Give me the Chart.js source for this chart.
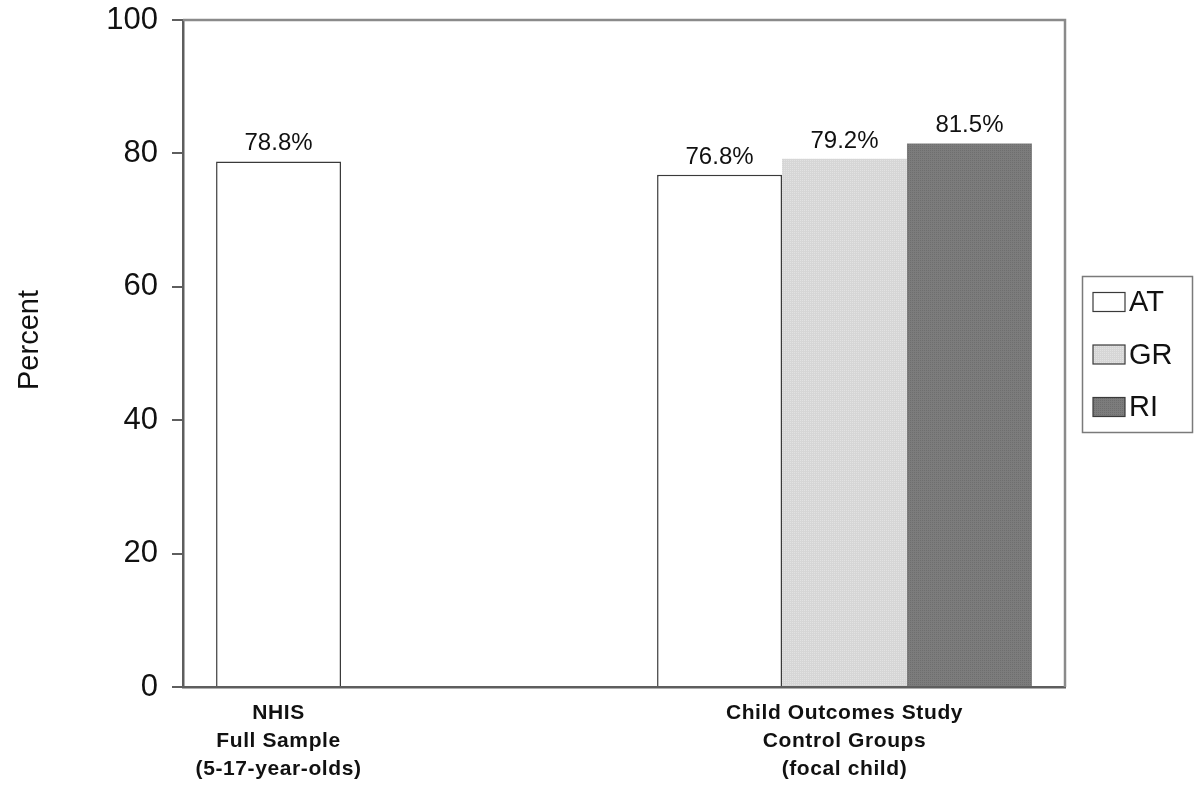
<!DOCTYPE html>
<html>
<head>
<meta charset="utf-8">
<script src="https://cdn.jsdelivr.net/npm/chart.js@4.4.1/dist/chart.umd.min.js"></script>
<style>
  html, body { margin: 0; padding: 0; background: #ffffff; }
  #wrap { width: 1196px; height: 786px; position: relative; }
</style>
</head>
<body>
<div id="wrap"><canvas id="c" width="1196" height="786"></canvas></div>
<script>
// Category labels (multi-line), series names and values
const categories = [
  ["NHIS", "Full Sample", "(5-17-year-olds)"],
  ["Child Outcomes Study", "Control Groups", "(focal child)"]
];
const seriesNames = ["AT", "GR", "RI"];
const atValues = [78.8, 76.8];
const grValues = [null, 79.2];
const riValues = [null, 81.5];
const yTicks = [0, 20, 40, 60, 80, 100];
const yTitle = "Percent";

const FONT = "'Liberation Sans', Arial, Helvetica, sans-serif";

// Small textured fills for the gray bars
function texture(c1, c2) {
  const p = document.createElement('canvas');
  p.width = 4; p.height = 4;
  const g = p.getContext('2d');
  g.fillStyle = c1; g.fillRect(0, 0, 4, 4);
  g.fillStyle = c2;
  g.fillRect(0, 0, 1, 1); g.fillRect(2, 2, 1, 1);
  g.fillRect(2, 0, 1, 1); g.fillRect(0, 2, 1, 1);
  return g.createPattern(p, 'repeat');
}
const grFill = texture('#d6d6d6', '#e2e2e2');
const riFill = texture('#7c7c7c', '#6e6e6e');

const datasets = [
  { label: seriesNames[0], data: atValues, backgroundColor: '#ffffff', borderColor: '#3a3a3a', borderWidth: 1.5 },
  { label: seriesNames[1], data: grValues, backgroundColor: grFill, borderWidth: 0 },
  { label: seriesNames[2], data: riValues, backgroundColor: riFill, borderWidth: 0 }
];

// Plot frame, value labels, category labels, axis title and legend
const decorations = {
  id: 'decorations',
  afterDatasetsDraw(chart) {
    const ctx = chart.ctx;
    const a = chart.chartArea;
    ctx.save();
    // frame around the plot area (top and right sides)
    ctx.strokeStyle = '#8a8a8a';
    ctx.lineWidth = 2.5;
    ctx.beginPath();
    ctx.moveTo(a.left, a.top);
    ctx.lineTo(a.right, a.top);
    ctx.lineTo(a.right, a.bottom);
    ctx.stroke();

    // value labels above bars
    ctx.fillStyle = '#111111';
    ctx.font = '24px ' + FONT;
    ctx.textAlign = 'center';
    ctx.textBaseline = 'alphabetic';
    chart.data.datasets.forEach((ds, di) => {
      const meta = chart.getDatasetMeta(di);
      meta.data.forEach((el, i) => {
        const v = ds.data[i];
        if (v === null || v === undefined) return;
        ctx.fillText(v.toFixed(1) + '%', el.x, el.y - 11);
      });
    });

    // category labels centred under the bars present in each group
    ctx.font = 'bold 21px ' + FONT;
    if ('letterSpacing' in ctx) ctx.letterSpacing = '0.6px';
    ctx.textBaseline = 'middle';
    categories.forEach((lines, i) => {
      const xs = [];
      chart.data.datasets.forEach((ds, di) => {
        const v = ds.data[i];
        if (v !== null && v !== undefined) xs.push(chart.getDatasetMeta(di).data[i].x);
      });
      const cx = xs.reduce((s, x) => s + x, 0) / xs.length;
      lines.forEach((t, k) => ctx.fillText(t, cx, a.bottom + 26 + k * 28));
    });
    if ('letterSpacing' in ctx) ctx.letterSpacing = '0px';

    // y axis title
    ctx.save();
    ctx.translate(30, 340);
    ctx.rotate(-Math.PI / 2);
    ctx.font = '29px ' + FONT;
    ctx.textAlign = 'center';
    ctx.textBaseline = 'middle';
    ctx.fillText(yTitle, 0, 0);
    ctx.restore();

    // legend
    const lx = 1082, ly = 276, lw = 110, lh = 156;
    ctx.strokeStyle = '#7a7a7a';
    ctx.lineWidth = 1.5;
    ctx.strokeRect(lx + 0.5, ly + 0.5, lw, lh);
    ctx.font = '29px ' + FONT;
    ctx.textAlign = 'left';
    ctx.textBaseline = 'middle';
    chart.data.datasets.forEach((ds, di) => {
      const cy = ly + 26 + di * 52.5;
      ctx.fillStyle = ds.backgroundColor;
      ctx.fillRect(lx + 11, cy - 9.5, 32, 19);
      ctx.strokeStyle = '#3a3a3a';
      ctx.lineWidth = 1.2;
      ctx.strokeRect(lx + 11, cy - 9.5, 32, 19);
      ctx.fillStyle = '#111111';
      ctx.fillText(ds.label, lx + 47, cy + 1);
    });
    ctx.restore();
  }
};

new Chart(document.getElementById('c'), {
  type: 'bar',
  data: { labels: categories.map(l => l.join(' ')), datasets },
  options: {
    responsive: false,
    animation: false,
    devicePixelRatio: 1,
    layout: { padding: { top: 20, right: 131, left: 0, bottom: 0 } },
    plugins: { legend: { display: false }, tooltip: { enabled: false } },
    datasets: { bar: { categoryPercentage: 0.85, barPercentage: 1.0 } },
    scales: {
      x: {
        grid: { display: false },
        border: { display: true, color: '#5e5e5e', width: 2.5 },
        ticks: { display: false },
        afterFit(s) { s.height = 99; s.paddingLeft = 0; s.paddingRight = 0; }
      },
      y: {
        min: 0, max: 100,
        afterBuildTicks(s) { s.ticks = yTicks.map(v => ({ value: v })); },
        ticks: { color: '#111111', font: { family: FONT, size: 31 }, padding: 14 },
        grid: { drawOnChartArea: false, drawTicks: true, tickLength: 11, color: '#5e5e5e', lineWidth: 2 },
        border: { display: true, color: '#5e5e5e', width: 2.5 },
        afterFit(s) { s.width = 183; s.paddingTop = 0; s.paddingBottom = 0; }
      }
    }
  },
  plugins: [decorations]
});
</script>
</body>
</html>
